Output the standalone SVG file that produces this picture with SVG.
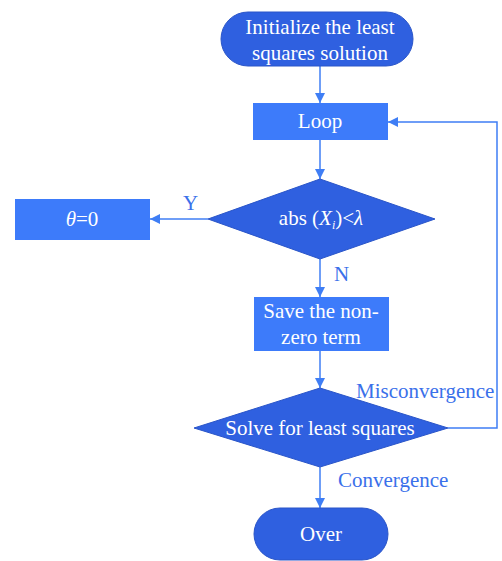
<svg xmlns="http://www.w3.org/2000/svg" width="502" height="561" viewBox="0 0 502 561">
<defs>
<style>
.dark{fill:#2f60e0;stroke:#2a55c8;stroke-width:1}
.light{fill:#3d7bfa}
.t{font-family:"Liberation Serif","Times New Roman",serif;font-size:21px;fill:#ffffff;text-anchor:middle}
.lbl{font-family:"Liberation Serif","Times New Roman",serif;font-size:21px;fill:#3a70ea}
.ln{fill:none;stroke:#3f7ef5;stroke-width:1.5}
</style>
<marker id="ah" viewBox="0 0 10 10" refX="10" refY="5" markerWidth="10" markerHeight="10" markerUnits="userSpaceOnUse" orient="auto">
<path d="M0,0 L10,5 L0,10 z" fill="#3f7ef5"/>
</marker>
</defs>
<rect width="502" height="561" fill="#ffffff"/>
<g id="connectors">
<line class="ln" x1="320" y1="66" x2="320" y2="103" marker-end="url(#ah)"/>
<line class="ln" x1="320" y1="140" x2="320" y2="179" marker-end="url(#ah)"/>
<line class="ln" x1="208" y1="219" x2="150" y2="219" marker-end="url(#ah)"/>
<line class="ln" x1="320" y1="259" x2="320" y2="297" marker-end="url(#ah)"/>
<line class="ln" x1="320" y1="351" x2="320" y2="388" marker-end="url(#ah)"/>
<polyline class="ln" points="448,428 497,428 497,122 388,122" marker-end="url(#ah)"/>
<line class="ln" x1="320" y1="467" x2="320" y2="508" marker-end="url(#ah)"/>
<text class="lbl" x="183" y="210">Y</text>
<text class="lbl" x="334" y="281">N</text>
<text class="lbl" x="356" y="398">Misconvergence</text>
<text class="lbl" x="338" y="487">Convergence</text>
</g>
<g id="start">
<rect class="dark" x="221" y="12" width="192" height="54" rx="27" ry="27"/>
<text class="t" x="320" y="34">Initialize the least</text>
<text class="t" x="320" y="60">squares solution</text>
</g>
<g id="loop">
<rect class="light" x="253" y="103" width="135" height="37"/>
<text class="t" x="320" y="128">Loop</text>
</g>
<g id="cond">
<polygon class="dark" points="320,179 435,219 320,259 208,219"/>
<text class="t" x="321" y="225">abs (<tspan font-style="italic">X</tspan><tspan font-style="italic" font-size="12" dy="4">i</tspan><tspan dy="-4">)&lt;</tspan><tspan font-style="italic">λ</tspan></text>
</g>
<g id="theta">
<rect class="light" x="15" y="199" width="135" height="41"/>
<text class="t" x="82" y="226"><tspan font-style="italic">θ</tspan>=0</text>
</g>
<g id="save">
<rect class="light" x="254" y="297" width="135" height="54"/>
<text class="t" x="321" y="318">Save the non-</text>
<text class="t" x="321" y="344">zero term</text>
</g>
<g id="solve">
<polygon class="dark" points="320,388 448,428 320,467 194,428"/>
<text class="t" x="320" y="435">Solve for least squares</text>
</g>
<g id="over">
<rect class="dark" x="254" y="508" width="134" height="52" rx="26" ry="26"/>
<text class="t" x="321" y="541">Over</text>
</g>
</svg>
